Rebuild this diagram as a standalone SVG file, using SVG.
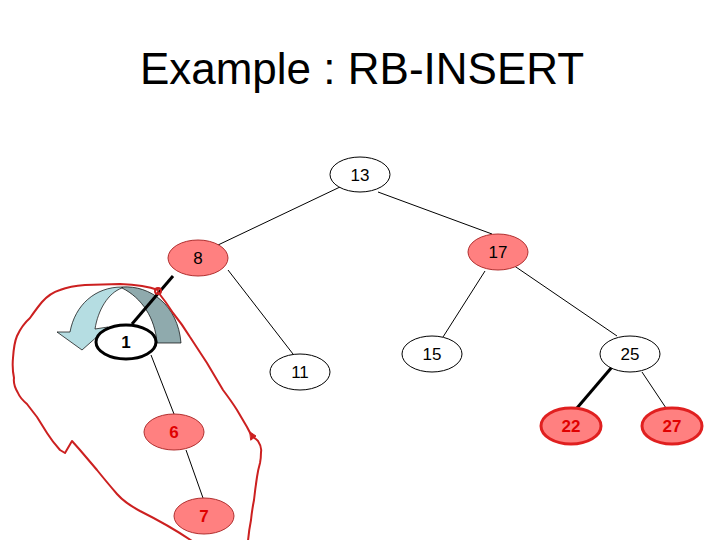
<svg xmlns="http://www.w3.org/2000/svg" width="720" height="540" viewBox="0 0 720 540">
<style>
.title{font-family:"Liberation Sans",Arial,sans-serif;font-size:44px;fill:#000}
.lbl{font-family:"Liberation Sans",Arial,sans-serif;font-size:17px;text-anchor:middle;fill:#000}
.lblr{font-family:"Liberation Sans",Arial,sans-serif;font-size:17px;font-weight:bold;text-anchor:middle;fill:#E00000}
.lblb{font-family:"Liberation Sans",Arial,sans-serif;font-size:17px;font-weight:bold;text-anchor:middle;fill:#000}
.w{fill:#fff;stroke:#000;stroke-width:1}
.r{fill:#FF8080;stroke:#B03030;stroke-width:1}
.rt{fill:#FF8080;stroke:#E02020;stroke-width:3}
.e{stroke:#000;stroke-width:1;fill:none}
.et{stroke:#000;stroke-width:3;fill:none}
</style>
<rect width="720" height="540" fill="#fff"/>
<text class="title" x="362" y="84" text-anchor="middle">Example : RB-INSERT</text>

<g id="rotation-arrow">
<path d="M122,287 C150,285 178,305 181,343 L157,343 C155,318 142,298 122,288 Z" fill="#8FAAAD" stroke="#000" stroke-width="0.7"/>
<path d="M122,287 C95,287 75,305 70,332 L57,332 L82,350 L108,327 L95,329 C98,310 108,293 122,288 Z" fill="#B5DDE2" stroke="#000" stroke-width="0.7"/>
</g>

<g id="connectors">
<line class="e" x1="340" y1="187" x2="218" y2="245"/>
<line class="e" x1="378" y1="192" x2="492" y2="234"/>
<line class="e" x1="228" y1="270" x2="293" y2="354"/>
<line class="e" x1="485" y1="271" x2="443" y2="337"/>
<line class="e" x1="513" y1="265" x2="617" y2="336"/>
<line class="et" x1="612" y1="367" x2="577" y2="408"/>
<line class="e" x1="642" y1="372" x2="666" y2="408"/>
<line class="et" x1="173" y1="276" x2="132" y2="324"/>
<line class="e" x1="151" y1="355" x2="174" y2="414"/>
<line class="e" x1="186" y1="450" x2="203" y2="498"/>
</g>

<g id="n13"><ellipse class="w" cx="360" cy="174.5" rx="30" ry="17.5"/><text class="lbl" x="360" y="180.5">13</text></g>
<g id="n8"><ellipse class="r" cx="198" cy="258" rx="30" ry="18"/><text class="lbl" x="198" y="264">8</text></g>
<g id="n17"><ellipse class="r" cx="498" cy="252" rx="30" ry="18"/><text class="lbl" x="498" y="258">17</text></g>
<g id="n11"><ellipse class="w" cx="300" cy="372" rx="30" ry="18"/><text class="lbl" x="300" y="378">11</text></g>
<g id="n15"><ellipse class="w" cx="432" cy="354" rx="30" ry="18"/><text class="lbl" x="432" y="360">15</text></g>
<g id="n25"><ellipse class="w" cx="630" cy="354" rx="30" ry="18"/><text class="lbl" x="630" y="360">25</text></g>
<g id="n22"><ellipse class="rt" cx="571" cy="426" rx="30" ry="18"/><text class="lblr" x="571" y="432">22</text></g>
<g id="n27"><ellipse class="rt" cx="672" cy="426" rx="30" ry="18"/><text class="lblr" x="672" y="432">27</text></g>
<g id="n1"><ellipse cx="126" cy="342" rx="30" ry="17" fill="#fff" stroke="#000" stroke-width="3"/><text class="lblb" x="126" y="348">1</text></g>
<g id="n6"><ellipse class="r" cx="174" cy="432" rx="30" ry="18"/><text class="lblr" x="174" y="438">6</text></g>
<g id="n7"><ellipse class="r" cx="204" cy="516" rx="30" ry="18"/><text class="lblr" x="204" y="522">7</text></g>

<g id="red-loop" fill="none" stroke="#CC2020" stroke-width="2" stroke-linejoin="round" stroke-linecap="round">
<path d="M192,541 Q170,526 140,511 Q125,503 117,494 Q105,480 97,470 L80,450 L72,441 L65,453 L60,450 Q52,441 47,433 L37,417 Q30,408 27,404 Q20,398 18,393 Q13,385 14,378 Q12,368 13,358 Q14,343 17,336 Q22,325 30,318 Q37,308 42,302 Q50,293 60,290 Q70,286 85,285 L120,284 Q145,285 158,290"/>
<circle cx="158" cy="291" r="3"/>
<path d="M158,292 Q166,302 173,313 Q182,324 190,337 L207,363 L223,390 Q232,402 237,410 L247,427 Q250,433 252,436 Q256,439 258,441 Q262,447 261,452 Q261,458 260,463 Q258,470 257,477 Q255,490 254,500 Q252,510 251,520 Q249,530 248,541"/>
<path d="M250,432 L256,436 L251,440 Z" fill="#CC2020" stroke-width="1"/>
</g>
</svg>
